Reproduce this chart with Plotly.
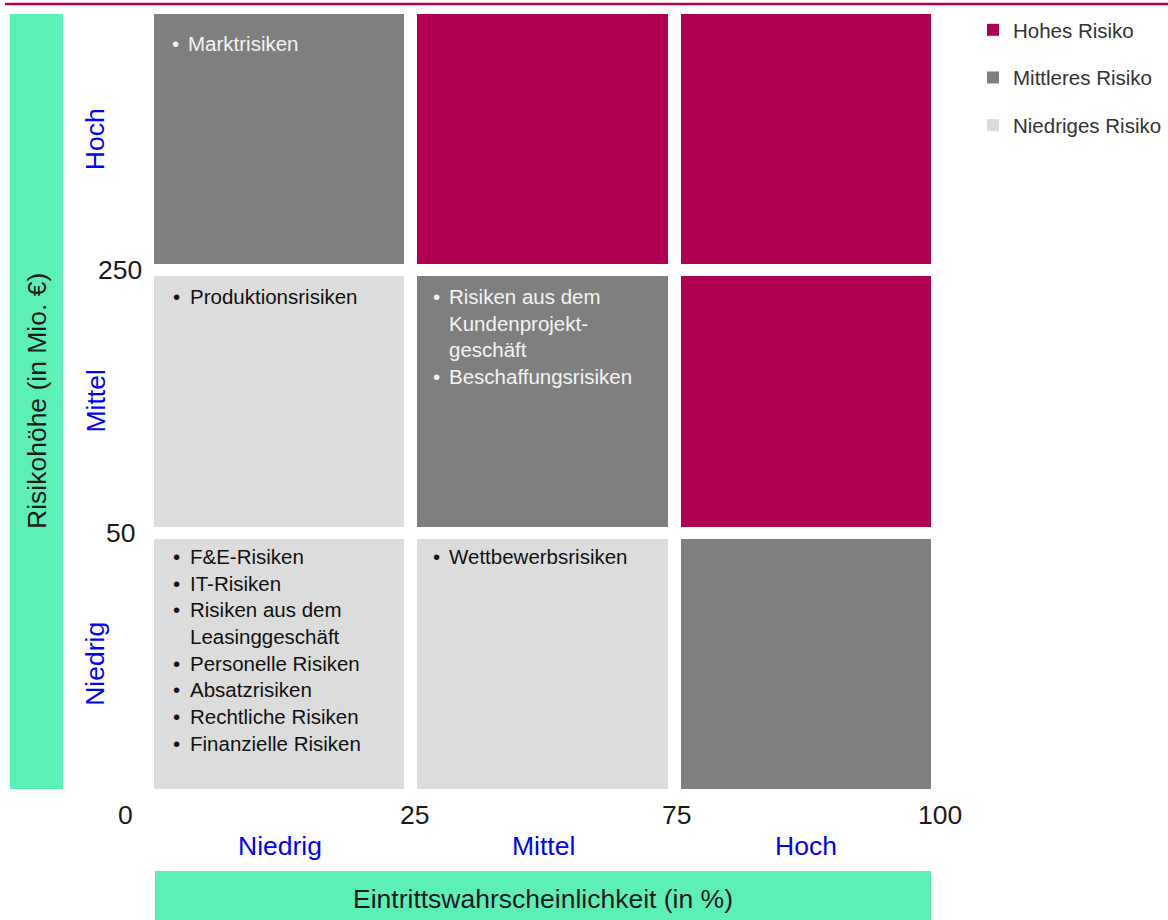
import plotly.graph_objects as go

# ---------------- data ----------------
prob_levels = ["Niedrig", "Mittel", "Hoch"]      # x categories (Eintrittswahrscheinlichkeit)
impact_levels = ["Niedrig", "Mittel", "Hoch"]    # y categories (Risikohöhe)
x_bound_labels = ["0", "25", "75", "100"]
y_bound_labels = ["50", "250"]
risk_classes = ["Hohes Risiko", "Mittleres Risiko", "Niedriges Risiko"]
risk_class_colors = ["#AF0052", "#7F7F7F", "#DCDCDC"]
# rows: impact Niedrig..Hoch ; cols: probability Niedrig..Hoch ; 0=niedrig,1=mittel,2=hoch
risk_matrix = [
    [0, 0, 1],
    [0, 1, 2],
    [1, 2, 2],
]
cell_rows = [2, 1, 1, 0, 0]
cell_cols = [0, 0, 1, 0, 1]
cell_items = [
    ["Marktrisiken"],
    ["Produktionsrisiken"],
    ["Risiken aus dem<br>Kundenprojekt-<br>geschäft", "Beschaffungsrisiken"],
    ["F&E-Risiken", "IT-Risiken", "Risiken aus dem<br>Leasinggeschäft", "Personelle Risiken",
     "Absatzrisiken", "Rechtliche Risiken", "Finanzielle Risiken"],
    ["Wettbewerbsrisiken"],
]

# ---------------- style / layout ----------------
FIG_W, FIG_H = 1168, 920
L, R, T, B = 148, 938, 8, 795
PW, PH = R - L, B - T
FONT = "Liberation Sans, Arial, sans-serif"
GREEN = "#5DF0B6"
CRIMSON = "#AF0052"
BLUE = "#0000FF"
TEXT_DARK = "#1a1a1a"
BIG = 26.5
CELL_FS = 20.5
cell_first_line_offset = [30, 21, 21, 18, 18]
cell_text_color = ["#F4F4F4", "#111111", "#F4F4F4", "#111111", "#111111"]
cell_xshift = [(22, 38), (23, 40), (20, 36), (23, 40), (20, 36)]


def px_x(px):
    return (px - L) / PW


def px_y(py):
    return (B - py) / PH


colorscale = [[0.0, risk_class_colors[2]], [0.5, risk_class_colors[1]], [1.0, risk_class_colors[0]]]

fig = go.Figure()
fig.add_trace(go.Heatmap(
    z=risk_matrix,
    x=list(range(len(prob_levels))),
    y=list(range(len(impact_levels))),
    zmin=0, zmax=2,
    colorscale=colorscale,
    showscale=False,
    xgap=13, ygap=12,
    hoverinfo="skip",
))

# legend entries
for name, col in zip(risk_classes, risk_class_colors):
    fig.add_trace(go.Scatter(
        x=[None], y=[None], mode="markers", name=name, legendgroup=name,
        marker=dict(symbol="square", size=14, color=col),
    ))

annotations = []
# cell texts
for r, c, items, d, tc, (bx, tx) in zip(cell_rows, cell_cols, cell_items, cell_first_line_offset,
                                        cell_text_color, cell_xshift):
    bullets = []
    for it in items:
        n = it.count("<br>") + 1
        bullets.append("•" + "<br>\u00a0" * (n - 1))
    common = dict(xref="x", yref="y", x=c - 0.5, y=r + 0.5, xanchor="left", yanchor="top",
                  showarrow=False, align="left", yshift=8 - d,
                  font=dict(family=FONT, size=CELL_FS, color=tc))
    annotations.append(dict(text="<br>".join(bullets), xshift=bx, **common))
    annotations.append(dict(text="<br>".join(items), xshift=tx, **common))

# category labels
for i, lab in enumerate(prob_levels):
    annotations.append(dict(xref="x", yref="paper", x=i, y=px_y(846), text=lab, showarrow=False,
                            xanchor="center", yanchor="middle",
                            font=dict(family=FONT, size=BIG, color=BLUE)))
for i, lab in enumerate(impact_levels):
    annotations.append(dict(xref="paper", yref="y", x=px_x(95), y=i, text=lab, showarrow=False,
                            textangle=-90, xanchor="center", yanchor="middle",
                            font=dict(family=FONT, size=BIG, color=BLUE)))

# boundary value labels
x_bounds = [-0.5, 0.5, 1.5, 2.5]
x_label_shift = [-23, 3, 2, 2]
for xb, lab, sh in zip(x_bounds, x_bound_labels, x_label_shift):
    annotations.append(dict(xref="x", yref="paper", x=xb, y=px_y(815), text=lab, showarrow=False,
                            xanchor="center", yanchor="middle", xshift=sh,
                            font=dict(family=FONT, size=BIG, color=TEXT_DARK)))
y_bounds = [0.5, 1.5]
for yb, lab in zip(y_bounds, y_bound_labels):
    annotations.append(dict(xref="paper", yref="y", x=px_x(120), y=yb, text=lab, showarrow=False,
                            xanchor="center", yanchor="middle",
                            font=dict(family=FONT, size=BIG, color=TEXT_DARK)))

# axis titles in green bars
annotations.append(dict(xref="paper", yref="paper", x=px_x(37), y=px_y(401), text="Risikohöhe (in Mio. €)",
                        showarrow=False, textangle=-90, xanchor="center", yanchor="middle",
                        font=dict(family=FONT, size=BIG, color=TEXT_DARK)))
annotations.append(dict(xref="paper", yref="paper", x=px_x(543), y=px_y(899),
                        text="Eintrittswahrscheinlichkeit (in %)",
                        showarrow=False, xanchor="center", yanchor="middle",
                        font=dict(family=FONT, size=BIG, color=TEXT_DARK)))

shapes = [
    dict(type="rect", xref="paper", yref="paper", x0=px_x(10), x1=px_x(63), y0=px_y(789), y1=px_y(14),
         fillcolor=GREEN, line=dict(width=0), layer="below"),
    dict(type="rect", xref="paper", yref="paper", x0=px_x(155), x1=px_x(931), y0=px_y(925), y1=px_y(871),
         fillcolor=GREEN, line=dict(width=0), layer="below"),
    dict(type="line", xref="paper", yref="paper", x0=px_x(5), x1=px_x(1170), y0=px_y(4), y1=px_y(4),
         line=dict(color=CRIMSON, width=2.5)),
]

fig.update_layout(
    width=FIG_W, height=FIG_H,
    margin=dict(l=L, r=FIG_W - R, t=T, b=FIG_H - B, pad=0, autoexpand=False),
    paper_bgcolor="white", plot_bgcolor="white",
    xaxis=dict(range=[-0.5, 2.5], showgrid=False, zeroline=False, showticklabels=False,
               ticks="", fixedrange=True, showline=False),
    yaxis=dict(range=[-0.5, 2.5], showgrid=False, zeroline=False, showticklabels=False,
               ticks="", fixedrange=True, showline=False),
    showlegend=True,
    legend=dict(x=px_x(973), y=px_y(10), xanchor="left", yanchor="top",
                font=dict(family=FONT, size=20.5, color="#333333"),
                tracegroupgap=18, bgcolor="rgba(0,0,0,0)", itemsizing="constant"),
    annotations=annotations,
    shapes=shapes,
)

fig.write_html("out.html")
